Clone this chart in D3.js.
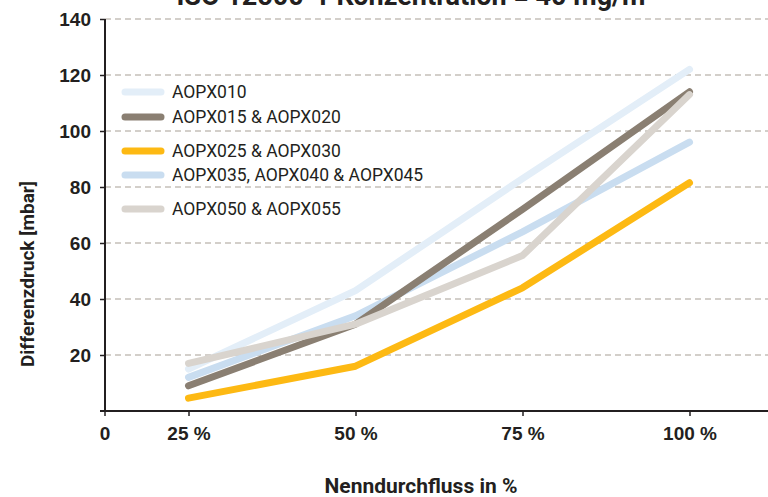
<!DOCTYPE html>
<html>
<head>
<meta charset="utf-8">
<script src="https://cdn.jsdelivr.net/npm/d3@7"></script>
<style>
  body { margin: 0; background: #fff; }
  svg { display: block; font-family: Roboto, "Noto Sans", sans-serif; }
</style>
</head>
<body>
<div id="chart"></div>
<script>
// flow categories (x) and the y ticks
const categories = ['25 %', '50 %', '75 %', '100 %']
const yTicks = [20, 40, 60, 80, 100, 120, 140]

const seriesNames = [
  'AOPX010',
  'AOPX015 & AOPX020',
  'AOPX025 & AOPX030',
  'AOPX035, AOPX040 & AOPX045',
  'AOPX050 & AOPX055'
]
const aopx010 = [15, 43, 83, 122]
const aopx015 = [9, 31, 72, 114]
const aopx025 = [4.6, 16, 44, 81.5]
const aopx035 = [12, 34, 64, 96]
const aopx050 = [17, 31, 55.5, 113]

const colors = ['#e3eef8', '#8a7f72', '#fdb913', '#c9ddf0', '#d9d4ce']

const width = 768
const height = 497
const margin = { top: 19, right: 0, bottom: 86, left: 105 }

const svg = d3.select('#chart').append('svg')
    .attr('width', width)
    .attr('height', height)

const x = d3.scalePoint()
    .domain(categories)
    .range([margin.left, margin.left + 4 * 167])
    .padding(0.5)

const y = d3.scaleLinear()
    .domain([0, 140])
    .range([height - margin.bottom, margin.top])

// title, cut by the top edge like in the original
svg.append('text')
    .attr('x', 416)
    .attr('y', 5)
    .attr('text-anchor', 'middle')
    .style('font-size', '27px')
    .style('font-weight', 'bold')
    .style('fill', '#231f20')
    .text('ISO 12500-1 Konzentration = 40 mg/m³')

// dashed grid
svg.append('g')
  .selectAll('line')
  .data(yTicks)
  .enter().append('line')
    .attr('x1', margin.left)
    .attr('x2', width)
    .attr('y1', d => y(d))
    .attr('y2', d => y(d))
    .attr('stroke', '#a89f95')
    .attr('stroke-width', 1.2)
    .attr('stroke-dasharray', '6,4')

// y axis
const yAxis = svg.append('g')
    .attr('transform', `translate(${margin.left},0)`)
    .call(d3.axisLeft(y).tickValues(yTicks).tickSize(5).tickPadding(9))
yAxis.select('.domain').remove()
yAxis.append('line')
    .attr('y1', y(0))
    .attr('y2', y(140))
    .attr('stroke', '#231f20')
    .attr('stroke-width', 2)

// x axis
const xAxis = svg.append('g')
    .attr('transform', `translate(0,${y(0)})`)
    .call(d3.axisBottom(x).tickSize(5).tickPadding(11))
xAxis.select('.domain').remove()
xAxis.append('line')
    .attr('x1', margin.left - 5)
    .attr('x2', width)
    .attr('stroke', '#231f20')
    .attr('stroke-width', 2)
xAxis.append('line')
    .attr('x1', margin.left)
    .attr('x2', margin.left)
    .attr('y2', 5)
    .attr('stroke', '#231f20')
    .attr('stroke-width', 1.5)
xAxis.append('text')
    .attr('x', margin.left)
    .attr('y', 16)
    .attr('dy', '0.71em')
    .attr('text-anchor', 'middle')
    .text('0')

svg.selectAll('.tick line')
    .attr('stroke', '#231f20')
    .attr('stroke-width', 1.5)
svg.selectAll('.tick text, g text')
    .style('font-size', '19px')
    .style('font-weight', 'bold')
    .style('fill', '#231f20')

// axis titles
svg.append('text')
    .attr('transform', `translate(27,${274}) rotate(-90)`)
    .attr('text-anchor', 'middle')
    .attr('dy', '0.35em')
    .style('font-size', '19px')
    .style('font-weight', 'bold')
    .style('fill', '#231f20')
    .text('Differenzdruck [mbar]')

svg.append('text')
    .attr('x', 421)
    .attr('y', 493)
    .attr('text-anchor', 'middle')
    .style('font-size', '21px')
    .style('font-weight', 'bold')
    .style('fill', '#231f20')
    .text('Nenndurchfluss in %')

// lines
const allValues = [aopx010, aopx015, aopx025, aopx035, aopx050]
const drawOrder = [0, 3, 1, 2, 4]

const line = d3.line()
    .x((d, i) => x(categories[i]))
    .y(d => y(d))

svg.append('g')
  .selectAll('path')
  .data(drawOrder)
  .enter().append('path')
    .attr('d', i => line(allValues[i]))
    .attr('fill', 'none')
    .attr('stroke', i => colors[i])
    .attr('stroke-width', 7)
    .attr('stroke-linecap', 'round')
    .attr('stroke-linejoin', 'round')

// legend
const legendY = [92, 117, 151, 175, 209]
const legend = svg.append('g')
  .selectAll('g')
  .data(seriesNames)
  .enter().append('g')
    .attr('transform', (d, i) => `translate(125,${legendY[i]})`)
legend.append('line')
    .attr('x1', 0)
    .attr('x2', 36)
    .attr('stroke', (d, i) => colors[i])
    .attr('stroke-width', 7)
    .attr('stroke-linecap', 'round')
legend.append('text')
    .attr('x', 47)
    .attr('dy', '0.35em')
    .style('font-size', '17.5px')
    .style('fill', '#231f20')
    .text(d => d)
</script>
</body>
</html>
